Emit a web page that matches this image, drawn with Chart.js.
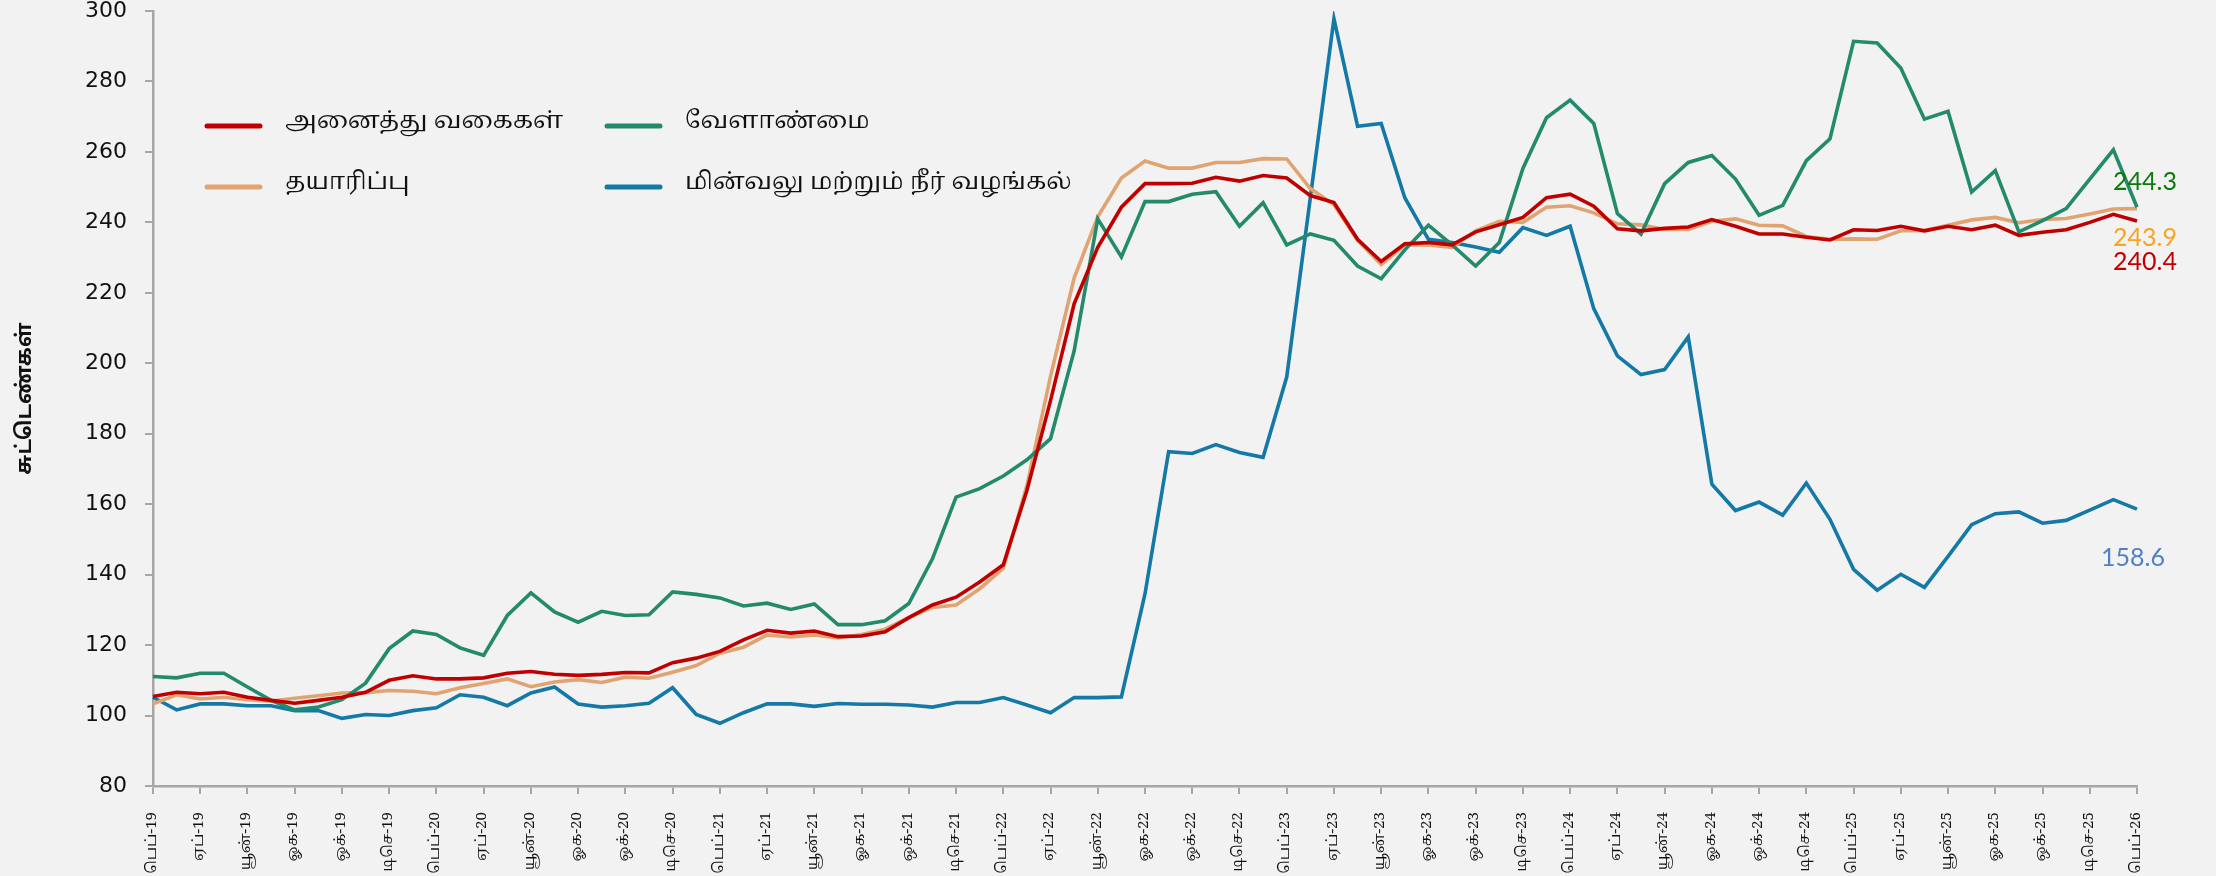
<!DOCTYPE html>
<html>
<head>
<meta charset="utf-8">
<script src="https://cdn.jsdelivr.net/npm/chart.js@4.4.1/dist/chart.umd.min.js"></script>
<style>
  html, body { margin: 0; padding: 0; background: #f2f2f2; }
  canvas { display: block; }
</style>
</head>
<body>
<canvas id="chart" width="2216" height="876"></canvas>
<script>
// month names (Jan..Dec), labels run Feb-19 .. Feb-26
const monthNames = ['ஜன', 'பெப்', 'மார்', 'ஏப்', 'மே', 'யூன்', 'யூலை', 'ஓக', 'செப்', 'ஒக்', 'நவ', 'டிசெ'];
const labels = [];
for (let i = 0; i < 85; i++) {
    const m = (1 + i) % 12;
    const y = 2019 + Math.floor((1 + i) / 12);
    labels.push(`${monthNames[m]}-${String(y).slice(2)}`);
}

const seriesNames = ['அனைத்து வகைகள்', 'வேளாண்மை', 'தயாரிப்பு', 'மின்வலு மற்றும் நீர் வழங்கல்'];

const allItems = [
    105.4, 106.6, 106.2, 106.6, 105.2, 104.3, 103.5, 104.3, 105.2, 106.6, 110.0, 111.3, 110.4, 110.4, 110.7,
    112.0, 112.5, 111.7, 111.4, 111.7, 112.2, 112.1, 115.0, 116.3, 118.2, 121.5, 124.2, 123.4, 124.0,
    122.4, 122.6, 123.8, 127.8, 131.4, 133.6, 137.9, 142.8, 163.9, 189.4, 216.9, 232.9, 244.3, 251.0,
    251.0, 251.1, 252.8, 251.7, 253.3, 252.6, 247.6, 245.6, 235.2, 228.9, 233.9, 234.3, 233.6, 237.3,
    239.3, 241.4, 247.0, 248.0, 244.6, 238.2, 237.6, 238.3, 238.7, 240.8, 238.9, 236.7, 236.7, 235.8,
    235.0, 237.9, 237.7, 238.9, 237.6, 238.9, 237.9, 239.2, 236.3, 237.2, 237.9, 240.0, 242.3, 240.4
];

const agriculture = [
    111.1, 110.7, 112.0, 112.0, 108.1, 104.3, 101.6, 102.4, 104.5, 109.2, 119.0, 124.0, 123.0, 119.2, 117.1,
    128.4, 134.8, 129.4, 126.5, 129.6, 128.4, 128.6, 135.1, 134.4, 133.4, 131.1, 131.9, 130.1, 131.7,
    125.8, 125.8, 126.9, 131.8, 144.5, 162.0, 164.4, 168.0, 172.6, 178.6, 203.5, 241.0, 230.2, 245.9,
    245.9, 248.0, 248.7, 238.9, 245.6, 233.6, 236.7, 234.9, 227.6, 224.0, 232.2, 239.2, 233.6, 227.6,
    234.3, 255.3, 269.7, 274.7, 268.1, 242.5, 236.7, 251.0, 257.0, 259.0, 252.3, 242.0, 244.8, 257.5,
    263.7, 291.4, 290.9, 283.8, 269.3, 271.5, 248.6, 254.7, 237.3, 240.5, 243.9, 252.3, 260.6, 244.3
];

const manufacturing = [
    103.3, 105.9, 104.7, 105.2, 104.5, 104.1, 104.9, 105.6, 106.4, 106.5, 107.1, 106.9, 106.2, 107.9, 109.1,
    110.4, 108.2, 109.5, 110.2, 109.4, 110.9, 110.6, 112.3, 114.2, 117.7, 119.4, 122.9, 122.3, 122.9,
    122.0, 123.0, 124.5, 127.8, 130.7, 131.4, 136.0, 141.8, 165.3, 196.3, 224.2, 241.6, 252.6, 257.4,
    255.4, 255.4, 257.0, 257.0, 258.1, 258.0, 249.6, 245.0, 234.9, 228.0, 233.6, 233.6, 232.9, 237.6,
    240.3, 240.0, 244.3, 244.7, 242.7, 239.6, 239.3, 238.0, 238.0, 240.3, 241.0, 239.2, 239.0, 236.0,
    235.2, 235.3, 235.2, 237.6, 237.7, 239.2, 240.7, 241.4, 239.9, 240.8, 241.1, 242.4, 243.8, 243.9
];

const electricityWater = [
    105.2, 101.6, 103.3, 103.3, 102.8, 102.8, 101.4, 101.4, 99.2, 100.3, 100.0, 101.4, 102.2, 105.9, 105.2,
    102.8, 106.4, 108.1, 103.3, 102.4, 102.8, 103.5, 107.9, 100.3, 97.8, 100.8, 103.3, 103.3, 102.6,
    103.4, 103.2, 103.2, 103.0, 102.4, 103.7, 103.7, 105.1, 103.0, 100.8, 105.1, 105.1, 105.3, 134.5,
    174.9, 174.4, 176.9, 174.7, 173.3, 196.1, 247.0, 297.8, 267.3, 268.1, 247.0, 235.2, 234.3, 233.0,
    231.5, 238.5, 236.3, 238.9, 215.5, 202.1, 196.8, 198.2, 207.5, 165.7, 158.2, 160.6, 156.9, 166.0,
    155.7, 141.5, 135.6, 140.1, 136.4, 145.2, 154.2, 157.3, 157.8, 154.6, 155.4, 158.3, 161.3, 158.6
];

const lineColors = ['#c00000', '#238a6c', '#e0a473', '#1479a6'];
const endLabelColors = ['#c00000', '#0e7a0e', '#f5a623', '#4f81c4'];
const endLabelOffsets = [41, -25, 29, 49];

const tamilSerif = '"Noto Serif Tamil", "Latha", "Vijaya", "DejaVu Serif", serif';
const tamilSans = '"Noto Sans Tamil", "Latha", "Noto Sans", sans-serif';

// 2 x 2 legend inside the plot, top left
const gridLegend = {
    id: 'gridLegend',
    afterDraw(chart) {
        const ctx = chart.ctx;
        const colX = [207, 607];
        const rowY = [126, 187];
        ctx.save();
        chart.data.datasets.forEach((ds, i) => {
            const x = colX[i % 2];
            const y = rowY[Math.floor(i / 2)];
            ctx.strokeStyle = ds.borderColor;
            ctx.lineWidth = 5;
            ctx.lineCap = 'round';
            ctx.beginPath();
            ctx.moveTo(x, y);
            ctx.lineTo(x + 53, y);
            ctx.stroke();
            ctx.fillStyle = '#111';
            ctx.font = `24px ${tamilSerif}`;
            ctx.textBaseline = 'middle';
            ctx.textAlign = 'left';
            ctx.fillText(ds.label, x + 78, y - 2);
        });
        ctx.restore();
    }
};

// last value printed near the end of each line
const endLabels = {
    id: 'endLabels',
    afterDatasetsDraw(chart) {
        const ctx = chart.ctx;
        ctx.save();
        ctx.font = '25px Lato, "Open Sans", sans-serif';
        ctx.textBaseline = 'middle';
        chart.data.datasets.forEach((ds, i) => {
            const meta = chart.getDatasetMeta(i);
            const pt = meta.data[meta.data.length - 1];
            const v = ds.data[ds.data.length - 1];
            ctx.fillStyle = endLabelColors[i];
            ctx.textAlign = i === 3 ? 'right' : 'left';
            const x = i === 3 ? pt.x + 28 : pt.x - 24;
            ctx.fillText(v.toFixed(1), x, pt.y + endLabelOffsets[i]);
        });
        ctx.restore();
    }
};

const datasets = [allItems, agriculture, manufacturing, electricityWater].map((d, i) => ({
    label: seriesNames[i],
    data: d,
    borderColor: lineColors[i],
    backgroundColor: lineColors[i],
    borderWidth: 3.6,
    pointRadius: 0,
    tension: 0,
    fill: false
}));

new Chart(document.getElementById('chart'), {
    type: 'line',
    data: { labels, datasets },
    options: {
        responsive: false,
        animation: false,
        devicePixelRatio: 1,
        layout: { padding: { left: 0, right: 79, top: 11, bottom: 0 } },
        plugins: {
            legend: { display: false },
            tooltip: { enabled: false }
        },
        scales: {
            x: {
                type: 'category',
                offset: false,
                grid: { display: true, drawOnChartArea: false, drawTicks: true, tickLength: 8, color: '#a6a6a6', lineWidth: 2 },
                border: { display: true, color: '#a6a6a6', width: 2.5 },
                ticks: {
                    autoSkip: true,
                    maxTicksLimit: 43,
                    maxRotation: 90,
                    minRotation: 90,
                    padding: 18,
                    color: '#111',
                    font: { family: tamilSerif, size: 15 }
                },
                afterFit(scale) {
                    scale.height = 90;
                    scale.paddingLeft = 0;
                    scale.paddingRight = 0;
                }
            },
            y: {
                min: 80,
                max: 300,
                grid: { display: true, drawOnChartArea: false, drawTicks: true, tickLength: 8, color: '#a6a6a6', lineWidth: 2 },
                border: { display: true, color: '#a6a6a6', width: 2.5 },
                ticks: {
                    stepSize: 20,
                    padding: 18,
                    color: '#111',
                    font: { family: '"DejaVu Sans", Verdana, sans-serif', size: 22 }
                },
                title: {
                    display: true,
                    text: 'சுட்டெண்கள்',
                    color: '#111',
                    font: { family: tamilSans, size: 21, weight: 'bold' },
                    padding: { top: 14, bottom: 0 }
                },
                afterFit(scale) {
                    scale.width = 153;
                    scale.paddingTop = 0;
                    scale.paddingBottom = 0;
                }
            }
        }
    },
    plugins: [gridLegend, endLabels]
});
</script>
</body>
</html>
